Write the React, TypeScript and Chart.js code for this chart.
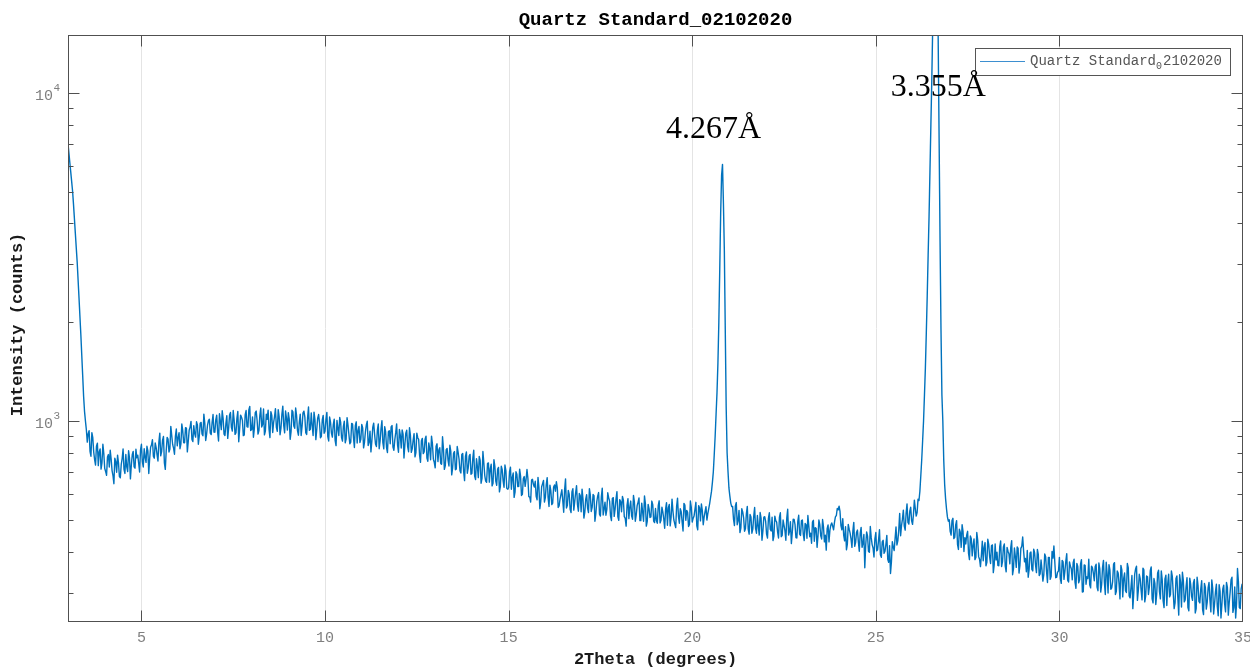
import React, { useEffect, useRef } from "react";
import { Chart, registerables } from "chart.js";

Chart.register(...registerables);

// ---- text ----
const chartTitle = "Quartz Standard_02102020";
const seriesLabel = "Quartz Standard_02102020";
const xAxisTitle = "2Theta (degrees)";
const yAxisTitle = "Intensity (counts)";

// ---- sampling grid of the scan (2θ, degrees) ----
const twoThetaStart = 3.0;
const twoThetaStep = 0.05;
const twoThetaHalfOffset = 0.025;

// ---- intensity (counts): samples on the 0.05° grid ----
const intensity03to07 = [
  7000, 6120, 5360, 4570, 3730, 3050, 2370, 1830, 1375, 1070,
  940, 915, 808, 921, 805, 734, 856, 804, 713, 849,
  717, 683, 790, 814, 706, 644, 752, 787, 677, 737,
  821, 692, 725, 811, 666, 789, 725, 820, 786, 699,
  849, 724, 776, 837, 692, 832, 877, 770, 831, 755,
  918, 807, 897, 712, 891, 804, 963, 848, 792, 945,
  889, 823, 979, 859, 954, 805, 937, 997, 865, 916,
  994, 849, 985, 913, 1049, 872, 971, 1012, 909, 1046,
];
const intensity07to11 = [
  924, 1041, 869, 996, 1074, 912, 981, 885, 1042, 956,
  1076, 910, 1019, 864, 1042, 1004, 906, 1076, 958, 1108,
  941, 892, 1061, 1003, 934, 1095, 976, 907, 1048, 1079,
  890, 1040, 990, 1090, 930, 1030, 950, 1110, 920, 1020,
  1060, 879, 1078, 966, 1095, 934, 993, 903, 1059, 1029,
  909, 1103, 943, 969, 1064, 877, 1020, 987, 897, 1039,
  931, 1062, 869, 990, 893, 1013, 841, 951, 1025, 890,
  963, 858, 1024, 910, 862, 979, 830, 994, 935, 860,
];
const intensity11to15 = [
  976, 828, 927, 998, 861, 805, 956, 910, 836, 979,
  869, 1002, 822, 928, 801, 933, 959, 833, 876, 980,
  803, 906, 939, 771, 918, 835, 953, 802, 875, 777,
  918, 879, 748, 885, 805, 899, 754, 823, 899, 765,
  720, 852, 816, 742, 895, 712, 818, 760, 843, 685,
  797, 710, 836, 765, 694, 796, 658, 805, 720, 791,
  692, 814, 663, 725, 780, 646, 807, 682, 650, 745,
  714, 634, 762, 656, 713, 608, 728, 657, 734, 623,
];
const intensity15to19 = [
  626, 723, 673, 585, 700, 631, 713, 593, 667, 632,
  711, 588, 566, 664, 629, 589, 673, 540, 630, 659,
  584, 672, 549, 612, 562, 638, 653, 545, 578, 617,
  527, 666, 553, 597, 526, 622, 568, 635, 531, 593,
  620, 506, 578, 543, 622, 530, 597, 495, 567, 605,
  513, 624, 539, 516, 604, 570, 497, 584, 539, 609,
  498, 568, 589, 511, 478, 580, 546, 513, 593, 495,
  552, 583, 497, 528, 591, 478, 557, 508, 570, 495,
];
const intensity19to23 = [
  541, 488, 571, 498, 528, 471, 564, 543, 479, 578,
  499, 473, 582, 488, 529, 462, 554, 534, 477, 570,
  492, 513, 565, 466, 544, 559, 483, 529, 499, 541,
  585, 650, 790, 1050, 1500, 2900, 5600, 4600, 1900, 800,
  625, 562, 549, 480, 564, 497, 457, 540, 507, 470,
  549, 452, 510, 468, 545, 455, 478, 526, 433, 509,
  494, 440, 525, 462, 432, 513, 492, 440, 525, 448,
  481, 433, 538, 461, 423, 502, 483, 440, 516, 448,
];
const intensity23to27 = [
  499, 432, 483, 515, 444, 424, 498, 473, 412, 499,
  447, 501, 428, 404, 482, 465, 489, 466, 510, 541,
  550, 480, 504, 431, 405, 484, 455, 412, 491, 426,
  465, 401, 474, 424, 357, 459, 401, 477, 420, 385,
  457, 405, 466, 384, 433, 401, 448, 371, 343, 429,
  403, 475, 432, 523, 480, 535, 465, 559, 485, 546,
  484, 574, 513, 578, 610, 760, 1000, 1450, 2400, 4200,
  8000, 16000, 40000, 45000, 14000, 3500, 1200, 760, 580, 510,
];
const intensity27to31 = [
  500, 449, 505, 442, 497, 406, 458, 483, 400, 422,
  461, 378, 438, 418, 378, 457, 386, 360, 430, 412,
  362, 436, 386, 417, 345, 422, 398, 362, 431, 372,
  422, 347, 401, 367, 432, 355, 386, 413, 344, 409,
  443, 372, 347, 334, 396, 353, 407, 364, 406, 338,
  377, 325, 393, 348, 384, 329, 400, 416, 333, 346,
  384, 320, 372, 349, 394, 323, 361, 328, 379, 309,
  360, 328, 378, 302, 363, 335, 379, 310, 357, 326,
];
const intensity31to35 = [
  366, 304, 354, 317, 376, 296, 342, 365, 307, 324,
  370, 302, 344, 287, 352, 331, 304, 368, 293, 311,
  268, 341, 361, 305, 331, 285, 352, 293, 335, 312,
  359, 279, 320, 297, 351, 287, 328, 270, 339, 319,
  291, 349, 299, 279, 337, 256, 322, 346, 281, 313,
  270, 332, 292, 321, 260, 334, 282, 308, 266, 320,
  267, 310, 285, 328, 258, 301, 272, 317, 251, 308,
  277, 322, 256, 301, 334, 270, 251, 355, 270, 308,
  306,
];

// ---- intensity (counts): samples half-way between grid points ----
const intensityMid03to07 = [
  6550, 5730, 5010, 4130, 3370, 2690, 2080, 1585, 1190, 1000,
  862, 934, 781, 889, 762, 838, 731, 822, 745, 796,
  701, 776, 724, 765, 682, 770, 698, 745, 671, 768,
  712, 790, 701, 771, 733, 808, 718, 772, 742, 815,
  752, 823, 748, 811, 770, 846, 781, 857, 790, 862,
  783, 874, 745, 812, 880, 821, 903, 826, 898, 840,
  921, 851, 934, 858, 951, 866, 958, 880, 968, 893,
  972, 898, 990, 901, 985, 912, 1003, 918, 990, 925,
];
const intensityMid07to11 = [
  1008, 925, 1052, 941, 1016, 903, 1038, 951, 1061, 932,
  1004, 921, 1069, 947, 1027, 902, 1043, 961, 1081, 935,
  1029, 948, 1072, 912, 1041, 958, 1087, 931, 1012, 944,
  1068, 922, 1031, 956, 1083, 908, 1047, 969, 1072, 938,
  1015, 927, 1066, 950, 1038, 905, 1049, 962, 1071, 921,
  1024, 936, 1058, 903, 1010, 942, 1046, 889, 1007, 917,
  1012, 896, 1028, 918, 975, 872, 1004, 903, 992, 868,
  998, 881, 971, 852, 983, 889, 968, 857, 962, 879,
];
const intensityMid11to15 = [
  952, 861, 972, 842, 931, 867, 985, 850, 937, 823,
  948, 859, 961, 830, 927, 852, 968, 814, 921, 846,
  942, 827, 912, 849, 937, 806, 905, 822, 915, 801,
  889, 786, 871, 795, 880, 771, 857, 762, 851, 748,
  838, 752, 829, 738, 822, 731, 824, 729, 808, 719,
  807, 714, 802, 705, 790, 702, 781, 693, 782, 688,
  771, 679, 768, 672, 758, 668, 744, 656, 742, 651,
  738, 646, 727, 637, 722, 631, 710, 628, 706, 619,
];
const intensityMid15to19 = [
  701, 619, 694, 607, 688, 632, 679, 598, 677, 664,
  668, 587, 661, 641, 655, 575, 628, 569, 644, 566,
  640, 585, 637, 556, 629, 611, 627, 551, 597, 571,
  617, 543, 614, 538, 608, 535, 604, 556, 601, 529,
  578, 527, 596, 526, 594, 545, 592, 522, 590, 520,
  587, 517, 566, 538, 583, 514, 581, 512, 579, 510,
  576, 529, 574, 505, 553, 504, 570, 502, 567, 517,
  565, 497, 562, 495, 560, 494, 540, 510, 556, 490,
];
const intensityMid19to23 = [
  497, 552, 489, 546, 503, 538, 481, 557, 508, 531,
  486, 549, 512, 540, 492, 561, 498, 527, 484, 545,
  505, 538, 479, 552, 496, 533, 510, 548, 522, 560,
  610, 700, 900, 1220, 2000, 4300, 6050, 3300, 1100, 700,
  590, 548, 501, 551, 483, 534, 472, 528, 461, 522,
  468, 519, 455, 512, 471, 515, 449, 506, 462, 511,
  452, 504, 468, 509, 446, 497, 459, 508, 444, 499,
  463, 506, 449, 493, 457, 501, 441, 494, 452, 497,
];
const intensityMid23to27 = [
  451, 487, 439, 478, 455, 492, 430, 471, 446, 483,
  437, 476, 449, 470, 428, 481, 478, 492, 515, 536,
  530, 466, 449, 476, 421, 468, 437, 462, 415, 458,
  428, 455, 412, 451, 419, 446, 398, 441, 410, 437,
  402, 434, 391, 428, 395, 421, 379, 417, 372, 412,
  438, 419, 465, 447, 502, 478, 523, 491, 531, 497,
  518, 541, 526, 572, 680, 870, 1200, 1850, 3200, 5800,
  11000, 25000, 48000, 30000, 7000, 1900, 1000, 640, 540, 495,
];
const intensityMid27to31 = [
  461, 497, 438, 482, 421, 468, 412, 461, 441, 449,
  395, 446, 388, 437, 384, 433, 379, 389, 375, 426,
  371, 421, 368, 419, 365, 377, 363, 414, 360, 413,
  361, 412, 394, 411, 340, 410, 358, 409, 363, 415,
  402, 381, 403, 352, 399, 349, 396, 345, 392, 342,
  352, 340, 386, 322, 384, 336, 382, 371, 334, 349,
  331, 376, 329, 374, 327, 372, 354, 370, 323, 368,
  321, 366, 301, 364, 318, 331, 317, 361, 343, 360,
];
const intensityMid31to35 = [
  312, 369, 301, 358, 322, 371, 299, 352, 310, 366,
  296, 349, 318, 363, 291, 344, 300, 357, 289, 338,
  299, 354, 284, 341, 305, 356, 281, 337, 296, 350,
  287, 331, 276, 344, 302, 349, 283, 330, 274, 341,
  296, 336, 268, 331, 290, 340, 271, 327, 285, 333,
  264, 318, 284, 329, 268, 315, 279, 326, 257, 311,
  280, 322, 262, 309, 277, 318, 255, 303, 276, 316,
  262, 311, 280, 328, 261, 312, 278, 324, 268, 318,
];

// ---- axes ----
const xMin = 3;
const xMax = 35;
const yMin = 244;
const yMax = 15000;
const xTicks = [5, 10, 15, 20, 25, 30, 35];
const yMajorTicks = [1000, 10000];
const yMinorTicks = [300, 400, 500, 600, 700, 800, 900, 2000, 3000, 4000, 5000, 6000, 7000, 8000, 9000];

// ---- peak annotations (anchored in data coordinates) ----
const peakLabels = [
  { text: "4.267Å", x: 20.58, y: 7260 },
  { text: "3.355Å", x: 26.70, y: 9810 },
];

const lineColor = "#0072BD";
const W = 1250;
const H = 667;

const matlabAxesPlugin = {
  id: "matlabAxes",
  beforeDatasetsDraw(chart: any) {
    const { ctx, chartArea: a, scales } = chart;
    const x = scales.x;
    ctx.save();
    ctx.strokeStyle = "#e4e4e4";
    ctx.lineWidth = 1;
    for (const t of xTicks) {
      const px = Math.round(x.getPixelForValue(t)) + 0.5;
      if (px > a.left + 1 && px < a.right - 1) {
        ctx.beginPath();
        ctx.moveTo(px, a.top);
        ctx.lineTo(px, a.bottom);
        ctx.stroke();
      }
    }
    ctx.restore();
  },
  afterDatasetsDraw(chart: any) {
    const { ctx, chartArea: a, scales } = chart;
    const x = scales.x;
    const y = scales.y;
    const L = Math.round(a.left) + 0.5;
    const R = Math.round(a.right) - 0.5;
    const T = Math.round(a.top) + 0.5;
    const B = Math.round(a.bottom) - 0.5;
    ctx.save();

    // box
    ctx.strokeStyle = "#505050";
    ctx.lineWidth = 1;
    ctx.strokeRect(L, T, R - L, B - T);

    // x tick marks (bottom and top, inward)
    ctx.beginPath();
    for (const t of xTicks) {
      const px = Math.round(x.getPixelForValue(t)) + 0.5;
      if (px < a.right - 1) {
        ctx.moveTo(px, B);
        ctx.lineTo(px, B - 11);
        ctx.moveTo(px, T);
        ctx.lineTo(px, T + 11);
      }
    }
    // y tick marks (left and right, inward)
    for (const t of yMajorTicks) {
      const py = Math.round(y.getPixelForValue(t)) + 0.5;
      ctx.moveTo(L, py);
      ctx.lineTo(L + 11, py);
      ctx.moveTo(R, py);
      ctx.lineTo(R - 11, py);
    }
    for (const t of yMinorTicks) {
      const py = Math.round(y.getPixelForValue(t)) + 0.5;
      ctx.moveTo(L, py);
      ctx.lineTo(L + 5, py);
      ctx.moveTo(R, py);
      ctx.lineTo(R - 5, py);
    }
    ctx.stroke();

    // x tick labels
    ctx.fillStyle = "#7f7f7f";
    ctx.font = "15px 'Liberation Mono', 'DejaVu Sans Mono', monospace";
    ctx.textAlign = "center";
    ctx.textBaseline = "middle";
    for (const t of xTicks) {
      ctx.fillText(String(t), x.getPixelForValue(t), a.bottom + 16);
    }

    // y tick labels as 10^n
    for (const t of yMajorTicks) {
      const py = y.getPixelForValue(t);
      const exp = String(Math.round(Math.log10(t)));
      ctx.font = "15px 'Liberation Mono', 'DejaVu Sans Mono', monospace";
      ctx.textAlign = "right";
      ctx.textBaseline = "middle";
      ctx.fillText("10", a.left - 15, py + 3);
      ctx.font = "11px 'Liberation Mono', 'DejaVu Sans Mono', monospace";
      ctx.textAlign = "left";
      ctx.fillText(exp, a.left - 14.5, py - 5);
    }

    // title
    ctx.fillStyle = "#000000";
    ctx.font = "bold 19px 'Liberation Mono', 'DejaVu Sans Mono', monospace";
    ctx.textAlign = "center";
    ctx.textBaseline = "middle";
    ctx.fillText(chartTitle, (a.left + a.right) / 2, 20);

    // x axis title
    ctx.font = "bold 17px 'Liberation Mono', 'DejaVu Sans Mono', monospace";
    ctx.fillStyle = "#1a1a1a";
    ctx.fillText(xAxisTitle, (a.left + a.right) / 2, a.bottom + 38);

    // y axis title
    ctx.save();
    ctx.translate(18, (a.top + a.bottom) / 2 - 4);
    ctx.rotate(-Math.PI / 2);
    ctx.fillText(yAxisTitle, 0, 0);
    ctx.restore();

    // legend box (top right, inside axes)
    const lx0 = a.right - 268;
    const ly0 = a.top + 13;
    const lw = 255;
    const lh = 27;
    ctx.fillStyle = "#ffffff";
    ctx.fillRect(lx0, ly0, lw, lh);
    ctx.strokeStyle = "#555555";
    ctx.lineWidth = 1;
    ctx.strokeRect(Math.round(lx0) + 0.5, Math.round(ly0) + 0.5, lw, lh);
    ctx.strokeStyle = "#3d8fd0";
    ctx.beginPath();
    ctx.moveTo(lx0 + 5, ly0 + 13.5);
    ctx.lineTo(lx0 + 50, ly0 + 13.5);
    ctx.stroke();
    const parts = seriesLabel.split("_");
    const mainText = parts[0];
    const subText = parts[1] ? parts[1].slice(0, 1) : "";
    const restText = parts[1] ? parts[1].slice(1) : "";
    ctx.fillStyle = "#555555";
    ctx.textAlign = "left";
    ctx.textBaseline = "alphabetic";
    ctx.font = "14px 'Liberation Mono', 'DejaVu Sans Mono', monospace";
    let tx = lx0 + 55;
    ctx.fillText(mainText, tx, ly0 + 17);
    tx += ctx.measureText(mainText).width;
    ctx.font = "10px 'Liberation Mono', 'DejaVu Sans Mono', monospace";
    ctx.fillText(subText, tx, ly0 + 21);
    tx += ctx.measureText(subText).width + 1;
    ctx.font = "14px 'Liberation Mono', 'DejaVu Sans Mono', monospace";
    ctx.fillText(restText, tx, ly0 + 17);

    // peak annotations
    ctx.fillStyle = "#000000";
    ctx.font = "32px 'Liberation Serif', 'DejaVu Serif', serif";
    ctx.textAlign = "center";
    ctx.textBaseline = "alphabetic";
    for (const p of peakLabels) {
      ctx.fillText(p.text, x.getPixelForValue(p.x), y.getPixelForValue(p.y));
    }

    ctx.restore();
  },
};

export default function App() {
  const canvasRef = useRef<HTMLCanvasElement | null>(null);

  useEffect(() => {
    document.body.style.margin = "0";
    const canvas = canvasRef.current;
    if (!canvas) return;
    const onGrid = [
      ...intensity03to07,
      ...intensity07to11,
      ...intensity11to15,
      ...intensity15to19,
      ...intensity19to23,
      ...intensity23to27,
      ...intensity27to31,
      ...intensity31to35,
    ];
    const midGrid = [
      ...intensityMid03to07,
      ...intensityMid07to11,
      ...intensityMid11to15,
      ...intensityMid15to19,
      ...intensityMid19to23,
      ...intensityMid23to27,
      ...intensityMid27to31,
      ...intensityMid31to35,
    ];
    const points: { x: number; y: number }[] = [];
    for (let i = 0; i < onGrid.length; i++) {
      points.push({ x: Math.round((twoThetaStart + i * twoThetaStep) * 1000) / 1000, y: onGrid[i] });
      if (i < midGrid.length) {
        points.push({
          x: Math.round((twoThetaStart + i * twoThetaStep + twoThetaHalfOffset) * 1000) / 1000,
          y: midGrid[i],
        });
      }
    }
    const chart = new Chart(canvas, {
      type: "line",
      data: {
        datasets: [
          {
            label: seriesLabel,
            data: points,
            borderColor: lineColor,
            backgroundColor: lineColor,
            borderWidth: 1.4,
            borderJoinStyle: "round",
            pointRadius: 0,
            tension: 0.001,
            fill: false,
          },
        ],
      },
      options: {
        animation: false,
        responsive: false,
        devicePixelRatio: 1,
        layout: { padding: { left: 68, top: 35, right: 7, bottom: 45 } },
        plugins: {
          legend: { display: false },
          title: { display: false },
          tooltip: { enabled: false },
        },
        scales: {
          x: { type: "linear", min: xMin, max: xMax, display: false },
          y: { type: "logarithmic", min: yMin, max: yMax, display: false },
        },
      },
      plugins: [matlabAxesPlugin],
    });
    return () => chart.destroy();
  }, []);

  return (
    <div style={{ position: "absolute", left: 0, top: 0, width: W, height: H, background: "#fff" }}>
      <canvas ref={canvasRef} width={W} height={H} style={{ width: W, height: H, display: "block" }} />
    </div>
  );
}
